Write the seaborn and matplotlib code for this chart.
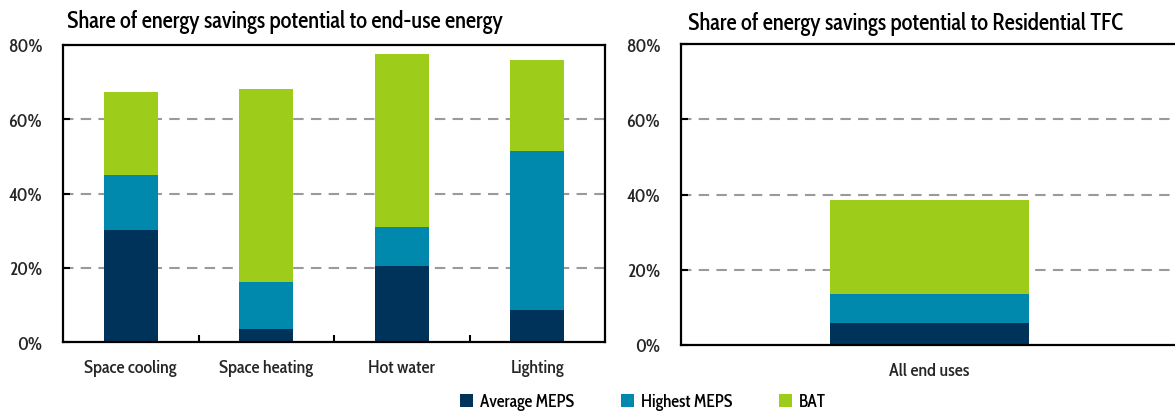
import matplotlib
matplotlib.use("Agg")
import matplotlib.pyplot as plt
from matplotlib import font_manager as fm
from matplotlib.patches import Patch
from matplotlib.ticker import FixedLocator, PercentFormatter
import numpy as np
import pandas as pd
import seaborn as sns

# End uses (left panel) and whole-sector total (right panel)
end_uses = ["Space cooling", "Space heating", "Hot water", "Lighting"]
avg_meps = [30.2, 3.7, 20.6, 8.8]
highest_meps = [14.8, 12.6, 10.3, 42.7]
bat = [22.2, 51.9, 46.7, 24.4]

total_label = ["All end uses"]
total_avg_meps = [5.9]
total_highest_meps = [7.7]
total_bat = [25.0]

series_names = ["Average MEPS", "Highest MEPS", "BAT"]
series_colors = ["#00335a", "#0089ac", "#9ecc1a"]
y_ticks = [0, 20, 40, 60, 80]

sns.set_theme(style="white")

# pick a condensed humanist sans if one is available
installed = {f.name for f in fm.fontManager.ttflist}
preferred = ["Cabin Condensed", "Fira Sans Condensed", "PT Sans Narrow",
             "Roboto Condensed", "Liberation Sans Narrow", "Open Sans Condensed"]
families = [f for f in preferred if f in installed] + ["DejaVu Sans"]
plt.rcParams["font.family"] = families
plt.rcParams["font.weight"] = 500
plt.rcParams["text.color"] = "black"

fig = plt.figure(figsize=(11.75, 4.14), dpi=100)
W, H = 1175, 414
ax_left = fig.add_axes([63 / W, 1 - 343.4 / H, (605 - 63) / W, (343.4 - 45.6) / H])
ax_right = fig.add_axes([681 / W, 1 - 346 / H, (1178 - 681) / W, (346 - 45.2) / H])


def stacked(ax, cats, layers):
    df = pd.DataFrame({"cat": cats})
    cum = np.zeros(len(cats))
    tops = []
    for vals in layers:
        cum = cum + np.asarray(vals, dtype=float)
        tops.append(cum.copy())
    # draw from the tallest cumulative layer down so each segment shows
    for top, color in reversed(list(zip(tops, series_colors))):
        df["top"] = top
        sns.barplot(data=df, x="cat", y="top", color=color, width=0.4,
                    saturation=1, edgecolor="none", linewidth=0, ax=ax)


def style_axes(ax, n):
    ax.set_ylim(0, 80)
    ax.set_xlim(-0.5, n - 0.5)
    ax.set_xlabel("")
    ax.set_ylabel("")
    ax.yaxis.set_major_locator(FixedLocator(y_ticks))
    ax.yaxis.set_major_formatter(PercentFormatter(decimals=0))
    for g in y_ticks[1:-1]:
        ax.axhline(g, color="#9a9a9a", lw=1.5, ls=(0, (5, 3.5)), zorder=0)
    for s in ax.spines.values():
        s.set_color("black")
        s.set_linewidth(1.6)
    ax.tick_params(axis="y", direction="in", length=5, width=1.5, color="black",
                   labelsize=13, pad=15, left=True)
    ax.tick_params(axis="x", which="major", length=0, labelsize=13, pad=12)
    if n > 1:
        ax.set_xticks(np.arange(0.5, n - 0.5, 1.0), minor=True)
        ax.tick_params(axis="x", which="minor", direction="in", length=5,
                       width=1.5, color="black", bottom=True)
    ax.set_axisbelow(True)


stacked(ax_left, end_uses, [avg_meps, highest_meps, bat])
style_axes(ax_left, len(end_uses))
stacked(ax_right, total_label, [total_avg_meps, total_highest_meps, total_bat])
style_axes(ax_right, len(total_label))

fig.text(67 / W, 1 - 22 / H, "Share of energy savings potential to end-use energy",
         fontsize=16.3, va="center", ha="left")
fig.text(688 / W, 1 - 24 / H, "Share of energy savings potential to Residential TFC",
         fontsize=16.3, va="center", ha="left")

handles = [Patch(facecolor=c, edgecolor="none", label=n)
           for c, n in zip(series_colors, series_names)]
fig.legend(handles=handles, loc="center", bbox_to_anchor=(643 / W, 1 - 403 / H),
           ncol=3, frameon=False, fontsize=12.5, handlelength=0.75, handleheight=0.75,
           handletextpad=0.4, columnspacing=2.7, borderpad=0)

fig.savefig("out.png", dpi=100)
